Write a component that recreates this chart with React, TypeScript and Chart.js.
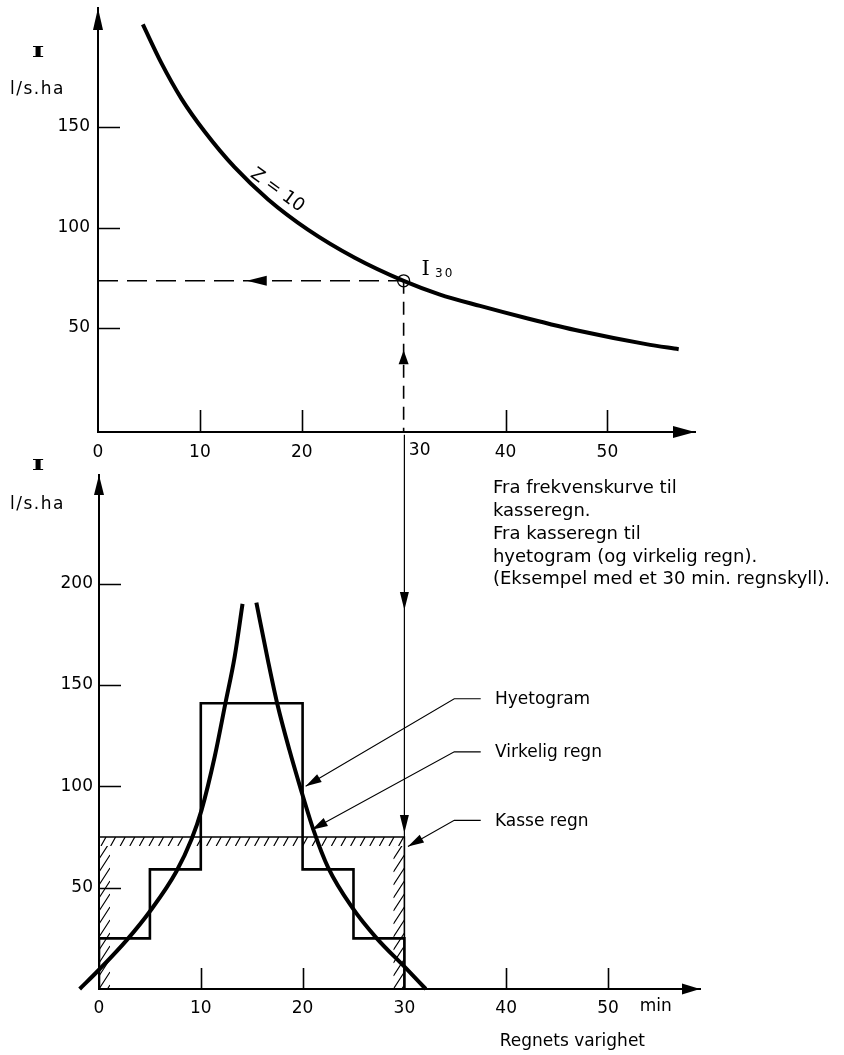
import React, { useEffect, useRef } from 'react';
import { Chart, registerables } from 'chart.js';

Chart.register(...registerables);

const SANS = '"DejaVu Sans", sans-serif';
const SERIF = '"DejaVu Serif", serif';

// ---------- Top chart: intensity / duration curve (Z = 10) ----------
const topDurations = [4.4, 6.2, 8.2, 10.5, 13.4, 16.7, 20.6, 25.2, 30, 33.5, 37.5, 42, 47.3, 53.8, 57];
const topIntensity = [201, 182, 164, 147.5, 130, 114, 99, 85, 73.5, 66.8, 61, 55, 48.5, 42, 39.5];
const i30Duration = 30;
const i30Value = 73.5;
const xTickValues = [0, 10, 20, 30, 40, 50];
const xTickMarks = [10, 20, 40, 50];
const topYTicks = [50, 100, 150];
const topXMin = 0;
const topXMax = 58.6;
const topYMin = -1.7;
const topYMax = 209.2;

// ---------- Bottom chart: kasseregn / hyetogram / virkelig regn ----------
const hyetoEdges = [0, 5, 10, 20, 25, 30];
const hyetoValues = [25, 59, 141, 59, 25];
const kasseDuration = 30;
const kasseValue = 75;
const realRiseT = [-1.9, 0, 2.7, 5.1, 7.6, 9.1, 10.06, 11.37, 12.42, 13.33, 14.1];
const realRiseI = [0, 9.5, 24, 39, 58, 74, 88, 114.7, 141, 164, 190];
const realFallT = [15.46, 16.6, 17.5, 18.7, 19.8, 21.1, 22.5, 24.9, 27.2, 30.1, 32.1];
const realFallI = [190.6, 162, 141, 118, 99, 78, 60, 40, 25.5, 10.5, 0];
const bottomYTicks = [50, 100, 150, 200];
const botXMin = 0;
const botXMax = 59.04;
const botYMin = 0;
const botYMax = 253.6;

// vertical connector from I30 down to the kasse top
const connectorTopI = 273.5;
const connectorArrowTips = [187, 77];

// leader annotations
const leaderLabels = ['Hyetogram', 'Virkelig regn', 'Kasse regn'];
const leaderTipT = [20.3, 20.9, 30.35];
const leaderTipI = [100, 78.6, 70.3];
const leaderElbowI = [143.2, 117, 83.2];
const leaderElbowT = 34.9;
const leaderEndT = 37.5;
const leaderLabelT = 38.9;

const noteLines = [
  'Fra frekvenskurve til',
  'kasseregn.',
  'Fra kasseregn til',
  'hyetogram (og virkelig regn).',
  '(Eksempel med et 30 min. regnskyll).',
];
const noteT = 38.7;
const noteFirstI = 246.8;

function arrowHead(ctx: any, tx: number, ty: number, dx: number, dy: number, len: number, hw: number) {
  const n = Math.hypot(dx, dy) || 1;
  const ux = dx / n;
  const uy = dy / n;
  const bx = tx - ux * len;
  const by = ty - uy * len;
  ctx.beginPath();
  ctx.moveTo(tx, ty);
  ctx.lineTo(bx - uy * hw, by + ux * hw);
  ctx.lineTo(bx + uy * hw, by - ux * hw);
  ctx.closePath();
  ctx.fill();
}

function drawSerifI(ctx: any, cx: number, cy: number) {
  ctx.save();
  ctx.translate(cx, cy);
  ctx.scale(1.8, 1);
  ctx.font = 'bold 15px ' + SERIF;
  ctx.textAlign = 'center';
  ctx.textBaseline = 'middle';
  ctx.fillText('I', 0, 0);
  ctx.restore();
}

function drawUnit(ctx: any, x: number, cy: number) {
  ctx.save();
  ctx.font = '17px ' + SANS;
  ctx.textAlign = 'left';
  ctx.textBaseline = 'middle';
  try { ctx.letterSpacing = '1.5px'; } catch (e) {}
  ctx.fillText('l/s.ha', x, cy);
  ctx.restore();
}

const tickFont = { family: SANS, size: 17 };

function baseScales(xMin: number, xMax: number, yMin: number, yMax: number, yTicks: number[], yWidth: number, xHeight: number, yPad: number, xPad: number, hide30: boolean) {
  return {
    x: {
      type: 'linear',
      min: xMin,
      max: xMax,
      afterBuildTicks: (s: any) => { s.ticks = xTickValues.map((v) => ({ value: v })); },
      afterFit: (s: any) => { s.height = xHeight; s.paddingLeft = 0; s.paddingRight = 0; },
      ticks: {
        font: tickFont,
        color: '#000',
        padding: xPad,
        autoSkip: false,
        maxRotation: 0,
        callback: (v: any) => (hide30 && v === 30 ? '' : String(v)),
      },
      grid: { drawOnChartArea: false, drawTicks: false },
      border: { display: true, color: '#000', width: 2 },
    },
    y: {
      type: 'linear',
      min: yMin,
      max: yMax,
      afterBuildTicks: (s: any) => { s.ticks = yTicks.map((v) => ({ value: v })); },
      afterFit: (s: any) => { s.width = yWidth; s.paddingTop = 0; s.paddingBottom = 0; },
      ticks: { font: tickFont, color: '#000', padding: yPad, autoSkip: false, callback: (v: any) => String(v) },
      grid: { drawOnChartArea: false, drawTicks: false },
      border: { display: true, color: '#000', width: 2 },
    },
  };
}

function topConfig(): any {
  const decor = {
    id: 'topDecor',
    afterDraw(chart: any) {
      const { ctx, chartArea: a, scales } = chart;
      const x = scales.x;
      const y = scales.y;
      ctx.save();
      ctx.fillStyle = '#000';
      ctx.strokeStyle = '#000';
      arrowHead(ctx, a.left, a.top, 0, -1, 22, 5);
      arrowHead(ctx, a.right, a.bottom, 1, 0, 22, 6);
      ctx.lineWidth = 1.6;
      ctx.beginPath();
      xTickMarks.forEach((v) => {
        const p = Math.round(x.getPixelForValue(v)) + 0.5;
        ctx.moveTo(p, a.bottom);
        ctx.lineTo(p, a.bottom - 22);
      });
      topYTicks.forEach((v) => {
        const p = Math.round(y.getPixelForValue(v)) + 0.5;
        ctx.moveTo(a.left, p);
        ctx.lineTo(a.left + 22, p);
      });
      ctx.stroke();
      const cx = x.getPixelForValue(i30Duration);
      const cy = y.getPixelForValue(i30Value);
      arrowHead(ctx, x.getPixelForValue(14.6), cy, -1, 0, 20, 5);
      arrowHead(ctx, cx, y.getPixelForValue(39), 0, -1, 14, 5);
      ctx.font = '17px ' + SANS;
      ctx.textAlign = 'center';
      ctx.textBaseline = 'middle';
      ctx.fillText('30', cx + 16, a.bottom + 19);
      drawSerifI(ctx, a.left - 60, a.top + 45);
      drawUnit(ctx, a.left - 88, a.top + 82);
      ctx.save();
      ctx.translate(x.getPixelForValue(17.6), y.getPixelForValue(118.5));
      ctx.rotate((36 * Math.PI) / 180);
      ctx.font = '18px ' + SANS;
      ctx.textAlign = 'center';
      ctx.textBaseline = 'middle';
      ctx.fillText('Z = 10', 0, 0);
      ctx.restore();
      ctx.font = '21px ' + SERIF;
      ctx.textAlign = 'center';
      ctx.fillText('I', cx + 22, cy - 11);
      ctx.font = '12px ' + SANS;
      try { ctx.letterSpacing = '2px'; } catch (e) {}
      ctx.fillText('30', cx + 41, cy - 7);
      ctx.restore();
    },
  };
  return {
    type: 'line',
    data: {
      datasets: [
        {
          data: topDurations.map((t, i) => ({ x: t, y: topIntensity[i] })),
          borderColor: '#000',
          borderWidth: 4,
          pointRadius: 0,
          cubicInterpolationMode: 'monotone',
        },
        {
          data: [{ x: topXMin, y: i30Value }, { x: i30Duration, y: i30Value }],
          borderColor: '#000',
          borderWidth: 1.6,
          borderDash: [20, 9],
          pointRadius: 0,
        },
        {
          data: [{ x: i30Duration, y: i30Value }, { x: i30Duration, y: topYMin }],
          borderColor: '#000',
          borderWidth: 1.6,
          borderDash: [13, 8],
          pointRadius: 0,
        },
        {
          data: [{ x: i30Duration, y: i30Value }],
          showLine: false,
          pointRadius: 6,
          pointBorderColor: '#000',
          pointBackgroundColor: 'rgba(0,0,0,0)',
          pointBorderWidth: 1.3,
        },
      ],
    },
    options: {
      responsive: false,
      animation: false,
      events: [],
      layout: { padding: { left: 0, right: 844 - 695, top: 8, bottom: 1055 - 432 - 38 } },
      plugins: { legend: { display: false }, tooltip: { enabled: false }, title: { display: false } },
      scales: baseScales(topXMin, topXMax, topYMin, topYMax, topYTicks, 98, 38, 8, 10, true),
    },
    plugins: [decor],
  };
}

function bottomConfig(): any {
  const hyetoPoints: any[] = [{ x: hyetoEdges[0], y: 0 }];
  hyetoValues.forEach((v, i) => {
    hyetoPoints.push({ x: hyetoEdges[i], y: v });
    hyetoPoints.push({ x: hyetoEdges[i + 1], y: v });
  });
  hyetoPoints.push({ x: hyetoEdges[hyetoEdges.length - 1], y: 0 });

  const decor = {
    id: 'bottomDecor',
    beforeDatasetsDraw(chart: any) {
      const { ctx, scales } = chart;
      const x = scales.x;
      const y = scales.y;
      const kx0 = x.getPixelForValue(0);
      const kx1 = x.getPixelForValue(kasseDuration);
      const ky = y.getPixelForValue(kasseValue);
      const ky0 = y.getPixelForValue(0);
      const band = 9;
      const side = 11;
      ctx.save();
      ctx.strokeStyle = '#000';
      ctx.lineWidth = 1.2;
      ctx.save();
      ctx.beginPath();
      ctx.rect(kx0, ky, kx1 - kx0, band);
      ctx.clip();
      ctx.beginPath();
      for (let xx = kx0 + 2; xx < kx1 + 10; xx += 9.6) {
        ctx.moveTo(xx, ky + band);
        ctx.lineTo(xx + 5, ky);
      }
      ctx.stroke();
      ctx.restore();
      [kx0, kx1 - side].forEach((bx) => {
        ctx.save();
        ctx.beginPath();
        ctx.rect(bx, ky + band, side, ky0 - ky - band);
        ctx.clip();
        ctx.beginPath();
        for (let yy = ky + band; yy < ky0 + 30; yy += 13) {
          ctx.moveTo(bx, yy);
          ctx.lineTo(bx + side, yy - 17);
        }
        ctx.stroke();
        ctx.restore();
      });
      ctx.restore();
    },
    afterDraw(chart: any) {
      const { ctx, chartArea: a, scales } = chart;
      const x = scales.x;
      const y = scales.y;
      ctx.save();
      ctx.fillStyle = '#000';
      ctx.strokeStyle = '#000';
      arrowHead(ctx, a.left, a.top, 0, -1, 20, 5);
      arrowHead(ctx, a.right, a.bottom, 1, 0, 18, 5.5);
      ctx.lineWidth = 1.6;
      ctx.beginPath();
      xTickMarks.forEach((v) => {
        const p = Math.round(x.getPixelForValue(v)) + 0.5;
        ctx.moveTo(p, a.bottom);
        ctx.lineTo(p, a.bottom - 21);
      });
      bottomYTicks.forEach((v) => {
        const p = Math.round(y.getPixelForValue(v)) + 0.5;
        ctx.moveTo(a.left, p);
        ctx.lineTo(a.left + 22, p);
      });
      ctx.stroke();
      const cx = x.getPixelForValue(kasseDuration);
      connectorArrowTips.forEach((v) => arrowHead(ctx, cx, y.getPixelForValue(v), 0, 1, 18, 4.5));
      ctx.font = '17px ' + SANS;
      ctx.textAlign = 'left';
      ctx.textBaseline = 'middle';
      leaderLabels.forEach((lab, i) => {
        const tx = x.getPixelForValue(leaderTipT[i]);
        const ty = y.getPixelForValue(leaderTipI[i]);
        const ex = x.getPixelForValue(leaderElbowT);
        const ey = y.getPixelForValue(leaderElbowI[i]);
        const hx = x.getPixelForValue(leaderEndT);
        ctx.lineWidth = 1.1;
        ctx.beginPath();
        ctx.moveTo(hx, ey);
        ctx.lineTo(ex, ey);
        ctx.lineTo(tx, ty);
        ctx.stroke();
        arrowHead(ctx, tx, ty, tx - ex, ty - ey, 16, 4.5);
        ctx.fillText(lab, x.getPixelForValue(leaderLabelT), ey + 1);
      });
      ctx.font = '18px ' + SANS;
      noteLines.forEach((line, i) => {
        ctx.fillText(line, x.getPixelForValue(noteT), y.getPixelForValue(noteFirstI) + i * 22.7);
      });
      drawSerifI(ctx, a.left - 61, a.top - 9);
      drawUnit(ctx, a.left - 89, a.top + 30);
      ctx.font = '17px ' + SANS;
      ctx.textAlign = 'center';
      ctx.fillText('min', x.getPixelForValue(54.7), a.bottom + 18);
      ctx.fillText('Regnets varighet', x.getPixelForValue(46.5), a.bottom + 53);
      ctx.restore();
    },
  };

  return {
    type: 'line',
    data: {
      datasets: [
        {
          data: [
            { x: 0, y: 0 },
            { x: 0, y: kasseValue },
            { x: kasseDuration, y: kasseValue },
            { x: kasseDuration, y: 0 },
          ],
          borderColor: '#000',
          borderWidth: 1.6,
          pointRadius: 0,
          tension: 0,
        },
        {
          data: hyetoPoints,
          borderColor: '#000',
          borderWidth: 2.6,
          pointRadius: 0,
          tension: 0,
        },
        {
          data: realRiseT.map((t, i) => ({ x: t, y: realRiseI[i] })),
          borderColor: '#000',
          borderWidth: 4,
          pointRadius: 0,
          cubicInterpolationMode: 'monotone',
          capBezierPoints: false,
          clip: false,
        },
        {
          data: realFallT.map((t, i) => ({ x: t, y: realFallI[i] })),
          borderColor: '#000',
          borderWidth: 4,
          pointRadius: 0,
          cubicInterpolationMode: 'monotone',
          capBezierPoints: false,
          clip: false,
        },
        {
          data: [{ x: kasseDuration, y: connectorTopI }, { x: kasseDuration, y: kasseValue }],
          borderColor: '#000',
          borderWidth: 1.2,
          pointRadius: 0,
          clip: false,
        },
      ],
    },
    options: {
      responsive: false,
      animation: false,
      events: [],
      layout: { padding: { left: 0, right: 844 - 700, top: 475, bottom: 1055 - 989 - 40 } },
      plugins: { legend: { display: false }, tooltip: { enabled: false }, title: { display: false } },
      scales: baseScales(botXMin, botXMax, botYMin, botYMax, bottomYTicks, 99, 40, 6, 9, false),
    },
    plugins: [decor],
  };
}

export default function App() {
  const topRef = useRef<HTMLCanvasElement>(null);
  const botRef = useRef<HTMLCanvasElement>(null);
  useEffect(() => {
    const c1 = new Chart(topRef.current as HTMLCanvasElement, topConfig());
    const c2 = new Chart(botRef.current as HTMLCanvasElement, bottomConfig());
    return () => {
      c1.destroy();
      c2.destroy();
    };
  }, []);
  return (
    <div style={{ position: 'absolute', left: 0, top: 0, width: 844, height: 1055, background: '#fff' }}>
      <canvas ref={topRef} width={844} height={1055} style={{ position: 'absolute', left: 0, top: 0 }} />
      <canvas ref={botRef} width={844} height={1055} style={{ position: 'absolute', left: 0, top: 0 }} />
    </div>
  );
}
